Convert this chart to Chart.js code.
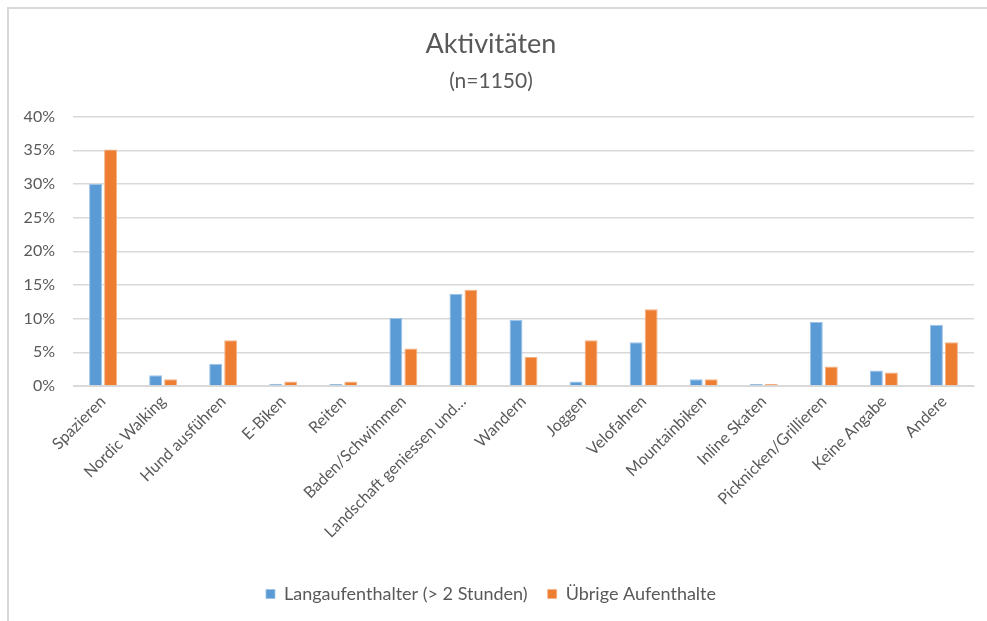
<!DOCTYPE html>
<html>
<head>
<meta charset="utf-8">
<script src="https://cdn.jsdelivr.net/npm/chart.js@4/dist/chart.umd.min.js"></script>
<style>
html,body{margin:0;padding:0;background:#fff;}
#wrap{position:relative;width:987px;height:621px;}
#frame{position:absolute;left:7px;top:7px;width:990px;height:620px;border-top:2px solid #D9D9D9;border-left:2px solid #D9D9D9;box-sizing:border-box;pointer-events:none;}
canvas{position:absolute;left:0;top:0;}
</style>
</head>
<body>
<div id="wrap">
<canvas id="c" width="987" height="621"></canvas>
<div id="frame"></div>
</div>
<script>
const categories = ["Spazieren","Nordic Walking","Hund ausführen","E-Biken","Reiten","Baden/Schwimmen","Landschaft geniessen und…","Wandern","Joggen","Velofahren","Mountainbiken","Inline Skaten","Picknicken/Grillieren","Keine Angabe","Andere"];
const langaufenthalter = [30.0, 1.6, 3.3, 0.35, 0.3, 10.1, 13.7, 9.8, 0.65, 6.5, 1.0, 0.3, 9.5, 2.3, 9.1];
const uebrige = [35.1, 1.0, 6.8, 0.65, 0.65, 5.55, 14.3, 4.3, 6.8, 11.4, 1.0, 0.3, 2.9, 2.0, 6.5];
const seriesNames = ["Langaufenthalter (> 2 Stunden)", "Übrige Aufenthalte"];
const yTicks = [0,5,10,15,20,25,30,35,40];

const FONT = "Lato, 'Open Sans', sans-serif";
const TXT = "#595959";

new Chart(document.getElementById('c'), {
  type: 'bar',
  data: {
    labels: categories,
    datasets: [
      {label: seriesNames[0], data: langaufenthalter, backgroundColor: '#5B9BD5', borderColor:'#9DC3E6', borderWidth:{top:1,left:1,right:1,bottom:0}, categoryPercentage: 0.5, barPercentage: 0.86},
      {label: seriesNames[1], data: uebrige, backgroundColor: '#ED7D31', borderColor:'#F4B183', borderWidth:{top:1,left:1,right:1,bottom:0}, categoryPercentage: 0.5, barPercentage: 0.86}
    ]
  },
  options: {
    responsive: false,
    animation: false,
    layout: {padding: {left: 8, right: 13, top: 8, bottom: 8}},
    plugins: {
      title: {display: true, text: 'Aktivitäten', color: TXT, font: {family: FONT, size: 27, weight: 'normal'}, padding: {top: 20, bottom: 8}},
      subtitle: {display: true, text: '(n=1150)', color: TXT, font: {family: FONT, size: 21, weight: 'normal'}, padding: {top: 0, bottom: 23}},
      legend: {position: 'bottom', labels: {color: TXT, font: {family: FONT, size: 18}, boxWidth: 9, boxHeight: 9, padding: 20}},
      tooltip: {enabled: false}
    },
    scales: {
      x: {
        grid: {display: false, drawTicks: false},
        border: {color: '#D9D9D9', width: 1},
        ticks: {color: TXT, font: {family: FONT, size: 16}, maxRotation: 45, minRotation: 45, autoSkip: false, padding: 6},
        afterFit: (s) => { s.height = 179; }
      },
      y: {
        min: 0, max: 40,
        afterBuildTicks: (s) => { s.ticks = yTicks.map(v => ({value: v})); },
        grid: {color: '#D9D9D9', lineWidth: 1.5, drawTicks: false},
        border: {display: false},
        ticks: {color: TXT, font: {family: FONT, size: 16}, padding: 18, callback: (v) => v + '%'},
        afterFit: (s) => { s.width = 65; }
      }
    }
  }
});
</script>
</body>
</html>
